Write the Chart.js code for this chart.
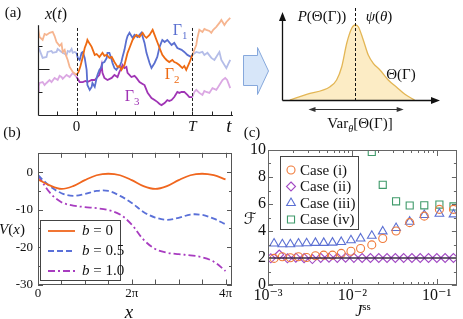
<!DOCTYPE html>
<html>
<head>
<meta charset="utf-8">
<script src="https://cdn.jsdelivr.net/npm/chart.js@4.4.0/dist/chart.umd.min.js"></script>
<style>
  body { margin: 0; background: #fff; }
  #fig { position: relative; width: 463px; height: 319px; overflow: hidden; background: #fff;
         font-family: 'Liberation Serif', 'DejaVu Serif', serif; color: #111; }
  canvas { position: absolute; }
  .lbl { position: absolute; white-space: nowrap; transform: translate(-50%, -50%); line-height: 1; }
  .lbl sub, .lbl sup { font-size: 68%; line-height: 0; }
</style>
</head>
<body>
<div id="fig">
  <canvas id="cA" width="240" height="140" style="left:0;top:0;width:240px;height:140px"></canvas>
  <canvas id="cP" width="223" height="140" style="left:240px;top:0;width:223px;height:140px"></canvas>
  <canvas id="cB" width="240" height="179" style="left:0;top:140px;width:240px;height:179px"></canvas>
  <canvas id="cC" width="223" height="179" style="left:240px;top:140px;width:223px;height:179px"></canvas>

  <svg style="position:absolute;left:240px;top:40px" width="32" height="60">
    <polygon points="3.5,15.5 17.5,15.5 17.5,7.5 28.5,31 17.5,54.5 17.5,45.5 3.5,45.5"
             fill="#d7e6f9" stroke="#86a8dc" stroke-width="1"/>
  </svg>

  <div class="lbl" style="left:13px;top:12px;font-size:15px">(a)</div>
  <div class="lbl" style="left:56px;top:14px;font-size:16px"><i>x</i>(<i>t</i>)</div>
  <div class="lbl" style="left:180px;top:30px;font-size:16px;color:#5a6fd0">Γ<sub>1</sub></div>
  <div class="lbl" style="left:172px;top:74px;font-size:16px;color:#ee6a12">Γ<sub>2</sub></div>
  <div class="lbl" style="left:132px;top:96px;font-size:16px;color:#a035b5">Γ<sub>3</sub></div>
  <div class="lbl" style="left:229px;top:125px;font-size:19px"><i>t</i></div>

  <div class="lbl" style="left:322px;top:16px;font-size:15px"><i>P</i>(Θ(Γ))</div>
  <div class="lbl" style="left:379px;top:16px;font-size:15px"><i>ψ</i>(<i>θ</i>)</div>
  <div class="lbl" style="left:401px;top:74px;font-size:15px">Θ(Γ)</div>
  <div class="lbl" style="left:360px;top:123px;font-size:15px">Var<sub><i>θ</i></sub>[Θ(Γ)]</div>

  <div class="lbl" style="left:12px;top:132px;font-size:15px">(b)</div>
  <div class="lbl" style="left:12px;top:229px;font-size:15px"><i>V</i>(<i>x</i>)</div>
  <div class="lbl" style="left:129px;top:311px;font-size:19px"><i>x</i></div>

  <div class="lbl" style="left:252px;top:132px;font-size:15px">(c)</div>
  <div class="lbl" style="left:250px;top:219px;font-size:16px;font-family:'DejaVu Serif','DejaVu Sans',serif"><i>ℱ</i></div>
  <div class="lbl" style="left:363px;top:311px;font-size:16px"><i>J</i><sup>ss</sup></div>
</div>

<script>
const SERIF = "'Liberation Serif', 'DejaVu Serif', serif";

// ---------- panel (a), left: three sample paths x(t), t in units of T/3 ----------
const tOrange = [-1.00,-0.96,-0.88,-0.83,-0.78,-0.70,-0.62,-0.57,-0.52,-0.44,-0.39,-0.36,-0.31,-0.28,-0.23,-0.18,-0.10,0,
  0.05,0.10,0.16,0.21,0.26,0.28,0.34,0.39,0.47,0.52,0.59,0.67,0.72,0.78,0.85,0.91,0.98,1.06,1.11,1.16,1.24,1.32,1.37,1.45,
  1.50,1.55,1.63,1.71,1.76,1.81,1.89,1.97,2.02,2.09,2.15,2.22,2.28,2.33,2.40,2.48,2.53,2.59,2.66,2.74,2.79,2.84,2.92,3.00,
  3.05,3.10,3.13,3.18,3.26,3.31,3.36,3.44,3.49,3.54,3.62,3.70,3.75,3.83,3.88,3.98];
const xOrange = [3.78,3.39,3.26,3.52,3.48,3.57,3.61,3.43,3.17,3.00,3.09,2.74,2.83,2.61,2.39,2.09,1.87,1.74,
  1.87,2.13,2.52,2.91,3.13,3.26,3.09,2.96,2.61,2.65,2.52,2.70,2.57,2.61,2.48,2.52,2.30,2.09,2.13,1.96,2.17,2.70,2.91,3.26,
  3.39,3.48,3.39,3.57,3.43,3.35,3.48,3.70,3.48,3.17,2.91,2.61,2.48,2.39,2.30,2.39,2.30,2.26,2.17,2.04,2.13,1.96,2.26,2.61,
  2.83,3.04,3.35,3.70,3.61,3.74,3.70,3.65,3.57,3.70,3.83,4.00,4.13,3.91,4.04,4.22];

const tBlue = [-1.00,-0.96,-0.91,-0.88,-0.78,-0.75,-0.65,-0.62,-0.52,-0.49,-0.39,-0.36,-0.26,-0.23,-0.18,-0.13,-0.10,-0.05,0,
  0.03,0.08,0.13,0.16,0.21,0.26,0.28,0.34,0.39,0.41,0.47,0.52,0.54,0.59,0.65,0.67,0.72,0.78,0.80,0.85,0.91,0.93,0.98,1.03,
  1.06,1.11,1.16,1.19,1.24,1.29,1.32,1.37,1.45,1.50,1.58,1.68,1.76,1.81,1.89,1.94,2.02,2.09,2.15,2.22,2.28,2.35,2.46,2.53,
  2.61,2.72,2.79,2.87,2.97,3.00,
  3.10,3.18,3.26,3.31,3.39,3.49,3.57,3.65,3.70,3.75,3.83,3.88,3.93,3.98];
const xBlue = [2.96,2.83,2.61,2.48,2.52,2.74,2.78,2.70,2.74,2.87,2.74,2.70,2.61,2.78,2.74,2.87,2.70,2.74,2.70,
  2.48,2.39,2.70,2.74,2.48,1.96,1.30,1.09,1.22,1.39,1.22,1.61,1.74,1.96,2.09,2.26,2.30,2.48,2.70,2.70,2.39,2.26,2.04,1.96,
  2.04,2.09,2.30,2.52,2.83,3.26,3.43,3.57,3.35,3.48,3.39,3.57,3.13,2.70,2.26,2.04,2.26,2.52,2.96,3.26,3.17,3.26,3.04,3.13,
  2.91,2.83,2.74,2.61,2.52,2.61,
  2.74,2.70,2.74,2.61,2.70,2.48,2.39,2.61,2.74,2.39,2.17,2.04,2.22,2.39];

const tPurple = [-1.00,-0.98,-0.96,-0.88,-0.83,-0.78,-0.70,-0.65,-0.57,-0.49,-0.44,-0.39,-0.36,-0.26,-0.18,-0.10,-0.05,0,
  0.08,0.16,0.23,0.28,0.39,0.47,0.52,0.59,0.65,0.67,0.72,0.80,0.91,0.98,1.06,1.11,1.16,1.19,1.24,1.29,1.32,1.42,1.50,1.55,
  1.63,1.71,1.76,1.84,1.94,2.02,2.09,2.15,2.20,2.28,2.35,2.40,2.46,2.53,2.61,2.66,2.72,2.79,2.87,2.92,3.00,
  3.05,3.10,3.18,3.26,3.31,3.36,3.44,3.52,3.62,3.70,3.78,3.85,3.90,3.98];
const xPurple = [1.00,1.26,1.39,1.43,1.30,1.39,1.52,1.43,1.61,1.52,1.70,1.65,1.57,1.74,1.65,1.83,1.74,1.65,
  1.43,1.43,1.48,1.43,1.52,1.52,1.61,1.74,2.17,1.83,1.61,1.52,1.61,1.74,1.65,1.87,2.04,2.17,2.04,2.09,1.83,1.65,1.70,1.61,
  1.43,1.35,1.30,0.96,0.74,0.65,0.57,0.48,0.43,0.52,0.65,0.61,0.65,0.78,1.00,0.96,1.00,1.00,0.87,0.78,0.78,
  1.00,1.09,0.96,0.87,1.04,1.00,0.96,1.17,1.09,1.30,1.52,1.61,1.52,1.17];

const T_END = 3;
const aTickT = [0, 3];
const aTickText = ['0', 'T'];
const aMinorT = [-0.5, 0, 0.5, 1, 1.5, 2, 2.5, 3, 3.5, 4];
const aTickX = [1, 2, 3];

// ---------- panel (a), right: distribution of Theta ----------
const thetaVals = [0.5, 1.58, 3.08, 3.5, 3.83, 4.15, 4.47, 4.68, 4.89, 5.21, 5.53, 5.85, 6.28, 6.81, 7.35, 7.88, 8.5];
const pTheta    = [0, 0.66, 1.55, 2.33, 3.87, 6.6, 8.34, 8.72, 8.52, 6.98, 5.23, 4.27, 3.49, 2.33, 1.48, 0.66, 0];
const thetaPeak = 4.68;
const varFrom = 1.7, varTo = 7.8;

// ---------- panel (b): potentials V(x) ----------
const xGrid = [0, 0.785, 1.571, 2.356, 3.142, 3.927, 4.712, 5.498, 6.283, 7.069, 7.854, 8.639, 9.425, 10.21, 10.996, 11.781, 12.566];
const vB0  = [-1.9, -3.5, -4.45, -3.7, -2.1, -0.8, -0.4, -0.8, -2.1, -3.7, -4.45, -3.7, -2.1, -0.8, -0.4, -0.8, -1.9];
const vB05 = [-0.8, -3.7, -5.6, -6.3, -5.8, -5.0, -5.0, -6.3, -8.2, -10.6, -12.1, -12.7, -12.2, -11.3, -11.4, -12.4, -13.9];
const vB10 = [-0.8, -5.4, -8.0, -8.9, -9.3, -9.6, -10.1, -11.3, -14.0, -18.0, -20.5, -21.5, -21.9, -22.2, -22.7, -23.9, -26.4];
const bValues = ['0', '0.5', '1.0'];
const bTickX = [0, 6.283, 12.566];
const bTickText = ['0', '2π', '4π'];
const bMinorX = [1.571, 3.142, 4.712, 6.283, 7.854, 9.425, 10.996, 12.566];
const bTickY = [-30, -20, -10, 0];
const bMinorY = [-25, -15, -5];

// ---------- panel (c): F versus J^ss ----------
const jGrid  = [0.00118, 0.00148, 0.00184, 0.0023, 0.00287, 0.00365, 0.00458, 0.00582, 0.00739, 0.00964,
                0.01253, 0.01702, 0.02296, 0.03304, 0.04794, 0.07138, 0.1079, 0.1585];
const fCase1 = [1.97, 2.09, 2.02, 2.09, 2.04, 2.17, 2.21, 2.21, 2.34, 2.5, 2.7, 2.97, 3.45, 4.0, 4.62, 5.1, 5.6, 5.6];
const fCase3 = [3.07, 3.02, 3.02, 3.07, 3.09, 3.12, 3.12, 3.14, 3.19, 3.31, 3.45, 3.65, 3.97, 4.22, 4.69, 5.18, 5.28, 5.23];
const fCase4 = [null, null, null, null, null, null, null, null, null, null, null, 9.85, 7.42, 6.2, 5.89, 5.9, 5.96, 5.82];
const jGridII = [0.00108, 0.00136, 0.0017, 0.00214, 0.00268, 0.00336, 0.00422, 0.00529, 0.00664, 0.00832, 0.01044, 0.01309,
                 0.01642, 0.0206, 0.02583, 0.0324, 0.04064, 0.05097, 0.06393, 0.08018, 0.1006, 0.1262, 0.1582];
const fCase2 = [1.98, 2.26, 1.98, 2.02, 1.99, 1.92, 2.01, 2.02, 2.01, 2.02, 2.01, 2.0, 2.0, 2.0, 2.0, 2.0, 2.0, 2.0, 2.0, 2.0, 2.0, 2.0, 2.0];
const fBound = 2;
const cTickJ = [0.001, 0.01, 0.1];
const cTickText = ['10⁻³', '10⁻²', '10⁻¹'];
const cMinorJ = [0.002, 0.003, 0.004, 0.005, 0.006, 0.007, 0.008, 0.009, 0.02, 0.03, 0.04, 0.05, 0.06, 0.07, 0.08, 0.09];
const cTickF = [0, 2, 4, 6, 8, 10];
const cMinorF = [1, 3, 5, 7, 9];

// ---------- helpers ----------
function pts(xs, ys) {
  const out = [];
  xs.forEach((x, i) => { if (ys[i] !== null) out.push({ x: x, y: ys[i] }); });
  return out;
}
function segment(ts, vs, lo, hi) {
  const out = [];
  ts.forEach((t, i) => { if (t >= lo && t <= hi) out.push({ x: t, y: vs[i] }); });
  return out;
}
function seg(ctx, x1, y1, x2, y2) {
  ctx.beginPath(); ctx.moveTo(x1, y1); ctx.lineTo(x2, y2); ctx.stroke();
}
function head(ctx, x, y, dx, dy, len, half) {
  // filled arrow head with its tip at (x, y), pointing along (dx, dy)
  ctx.beginPath();
  ctx.moveTo(x, y);
  ctx.lineTo(x - dx * len - dy * half, y - dy * len + dx * half);
  ctx.lineTo(x - dx * len + dy * half, y - dy * len - dx * half);
  ctx.closePath(); ctx.fill();
}
function marker(ctx, style, x, y, r) {
  ctx.beginPath();
  if (style === 'circle') ctx.arc(x, y, r, 0, Math.PI * 2);
  else if (style === 'rect') { const s = r * Math.SQRT1_2; ctx.rect(x - s, y - s, 2 * s, 2 * s); }
  else if (style === 'rectRot') { ctx.moveTo(x, y - r); ctx.lineTo(x + r, y); ctx.lineTo(x, y + r); ctx.lineTo(x - r, y); ctx.closePath(); }
  else if (style === 'triangle') {
    for (let k = 0; k < 3; k++) {
      const a = k * 2 * Math.PI / 3;
      if (k === 0) ctx.moveTo(x + Math.sin(a) * r, y - Math.cos(a) * r);
      else ctx.lineTo(x + Math.sin(a) * r, y - Math.cos(a) * r);
    }
    ctx.closePath();
  }
  ctx.stroke();
}

// inward ticks and a full frame, placed through the chart's own scales
const frameTicks = {
  id: 'frameTicks',
  afterDatasetsDraw(chart, args, o) {
    const ctx = chart.ctx, a = chart.chartArea;
    ctx.save();
    ctx.strokeStyle = o.color;
    ctx.lineWidth = 1;
    ctx.strokeRect(Math.round(a.left) + 0.5, Math.round(a.top) + 0.5, Math.round(a.width) - 1, Math.round(a.height) - 1);
    o.marks.forEach(m => {
      const s = chart.scales[m.axis];
      m.values.forEach(v => {
        const p = Math.round(s.getPixelForValue(v)) + 0.5;
        if (m.axis === 'x') {
          seg(ctx, p, a.bottom, p, a.bottom - m.len);
          seg(ctx, p, a.top, p, a.top + m.len);
        } else {
          seg(ctx, a.left, p, a.left + m.len, p);
          seg(ctx, a.right, p, a.right - m.len, p);
        }
      });
    });
    ctx.restore();
  }
};

// boxed legend drawn inside the plot area
const boxLegend = {
  id: 'boxLegend',
  afterDatasetsDraw(chart, args, o) {
    const ctx = chart.ctx;
    ctx.save();
    ctx.fillStyle = '#fff';
    ctx.fillRect(o.x, o.y, o.w, o.h);
    ctx.strokeStyle = '#444';
    ctx.lineWidth = 1;
    ctx.strokeRect(o.x + 0.5, o.y + 0.5, o.w, o.h);
    const items = chart.data.datasets.filter(d => d.label);
    items.forEach((d, i) => {
      const y = o.rows[i];
      ctx.strokeStyle = d.borderColor;
      if (o.kind === 'line') {
        ctx.lineWidth = d.borderWidth;
        ctx.setLineDash(d.borderDash || []);
        seg(ctx, o.x + 8, y, o.x + 35, y);
        ctx.setLineDash([]);
        ctx.fillStyle = '#111';
        ctx.textBaseline = 'middle';
        ctx.font = 'italic 15px ' + SERIF;
        ctx.fillText('b', o.x + 42, y);
        const w = ctx.measureText('b').width;
        ctx.font = '15px ' + SERIF;
        ctx.fillText(' = ' + d.bValue, o.x + 42 + w, y);
      } else {
        ctx.lineWidth = d.borderWidth;
        marker(ctx, d.pointStyle, o.x + 11, y, d.pointRadius);
        ctx.fillStyle = '#111';
        ctx.textBaseline = 'middle';
        ctx.font = '15px ' + SERIF;
        ctx.fillText(d.label, o.x + 20, y + 1);
      }
    });
    ctx.restore();
  }
};

Chart.defaults.font.family = SERIF;
Chart.defaults.color = '#111';

// ---------- chart (a) left ----------
const pathAxes = {
  id: 'pathAxes',
  afterDatasetsDraw(chart) {
    const ctx = chart.ctx, x = chart.scales.x, y = chart.scales.y;
    const xl = Math.round(x.getPixelForValue(-1)) + 0.5;
    const yb = Math.round(y.getPixelForValue(0)) + 0.5;
    ctx.save();
    ctx.strokeStyle = '#222';
    ctx.lineWidth = 1;
    ctx.setLineDash([3, 2]);
    aTickT.forEach(t => {
      const p = Math.round(x.getPixelForValue(t)) + 0.5;
      seg(ctx, p, y.getPixelForValue(3.78), p, yb);
    });
    ctx.setLineDash([]);
    ctx.lineWidth = 1.2;
    seg(ctx, xl, y.getPixelForValue(3.9), xl, yb);
    seg(ctx, xl, yb, x.getPixelForValue(4.05), yb);
    ctx.lineWidth = 1;
    aMinorT.forEach(t => { const p = Math.round(x.getPixelForValue(t)) + 0.5; seg(ctx, p, yb, p, yb - 4); });
    aTickX.forEach(v => { const p = Math.round(y.getPixelForValue(v)) + 0.5; seg(ctx, xl, p, xl + (v === 2 ? 11 : 4), p); });
    ctx.restore();
  }
};

const paths = [
  { t: tOrange, v: xOrange, col: '#ee6a12', fade: '#f6b590' },
  { t: tBlue,   v: xBlue,   col: '#5a6fd0', fade: '#b4bde8' },
  { t: tPurple, v: xPurple, col: '#a035b5', fade: '#dba8e3' }
];
const aSets = [];
paths.forEach(p => aSets.push({ data: segment(p.t, p.v, 0, T_END), borderColor: p.col, borderWidth: 1.8 }));
paths.forEach(p => {
  aSets.push({ data: segment(p.t, p.v, -1, 0), borderColor: p.fade, borderWidth: 1.8 });
  aSets.push({ data: segment(p.t, p.v, T_END, 4), borderColor: p.fade, borderWidth: 1.8 });
});

new Chart(document.getElementById('cA'), {
  type: 'line',
  data: { datasets: aSets },
  options: {
    responsive: false, animation: false,
    layout: { padding: { left: 38, top: 16, right: 9, bottom: 0 } },
    elements: { point: { radius: 0 }, line: { tension: 0 } },
    plugins: { legend: { display: false }, tooltip: { enabled: false } },
    scales: {
      x: {
        type: 'linear', min: -1, max: 4,
        grid: { display: false, drawTicks: false }, border: { display: false },
        afterBuildTicks: s => { s.ticks = aTickT.map(v => ({ value: v })); },
        afterFit: s => { s.height = 25; },
        ticks: {
          autoSkip: false, maxRotation: 0, padding: 3, color: '#111',
          callback: (v, i) => aTickText[i],
          font: c => ({ family: SERIF, size: 15, style: c.tick && c.tick.value === T_END ? 'italic' : 'normal' })
        }
      },
      y: { min: 0, max: 4.3, display: false }
    }
  },
  plugins: [pathAxes]
});

// ---------- chart (a) right ----------
const distAxes = {
  id: 'distAxes',
  afterDatasetsDraw(chart) {
    const ctx = chart.ctx, a = chart.chartArea, x = chart.scales.x;
    const l = Math.round(a.left) + 0.5, b = Math.round(a.bottom) + 0.5;
    ctx.save();
    ctx.strokeStyle = '#111'; ctx.fillStyle = '#111';
    ctx.setLineDash([3, 2]);
    ctx.lineWidth = 1;
    const pk = Math.round(x.getPixelForValue(thetaPeak)) + 0.5;
    seg(ctx, pk, a.top - 6, pk, b);
    ctx.setLineDash([]);
    ctx.lineWidth = 1.3;
    seg(ctx, l, b, l, a.top + 4);
    head(ctx, l, a.top - 2, 0, -1, 9, 3.5);
    seg(ctx, l, b, a.right - 4, b);
    head(ctx, a.right + 2, b, 1, 0, 9, 3.5);
    ctx.strokeStyle = '#333'; ctx.fillStyle = '#333'; ctx.lineWidth = 1;
    const va = x.getPixelForValue(varFrom), vb = x.getPixelForValue(varTo), vy = b + 9;
    seg(ctx, va + 4, vy, vb - 4, vy);
    head(ctx, va, vy, -1, 0, 7, 2.6);
    head(ctx, vb, vy, 1, 0, 7, 2.6);
    ctx.restore();
  }
};

new Chart(document.getElementById('cP'), {
  type: 'line',
  data: {
    datasets: [{
      data: pts(thetaVals, pTheta), borderColor: '#e3b655', borderWidth: 1.3,
      backgroundColor: '#fcecc5', fill: 'origin', cubicInterpolationMode: 'monotone', pointRadius: 0
    }]
  },
  options: {
    responsive: false, animation: false,
    layout: { padding: { left: 42, top: 14, right: 25, bottom: 40 } },
    plugins: { legend: { display: false }, tooltip: { enabled: false } },
    scales: {
      x: { type: 'linear', min: 0, max: 10, display: false },
      y: { min: 0, max: 10, display: false }
    }
  },
  plugins: [distAxes]
});

// ---------- chart (b) ----------
new Chart(document.getElementById('cB'), {
  type: 'line',
  data: {
    datasets: [
      { label: 'b0', bValue: bValues[0], data: pts(xGrid, vB0), borderColor: '#f0661e', borderWidth: 1.8 },
      { label: 'b05', bValue: bValues[1], data: pts(xGrid, vB05), borderColor: '#5a70d8', borderWidth: 1.8, borderDash: [6, 3] },
      { label: 'b10', bValue: bValues[2], data: pts(xGrid, vB10), borderColor: '#a83cc0', borderWidth: 1.8, borderDash: [7, 3, 2, 3] }
    ]
  },
  options: {
    responsive: false, animation: false,
    layout: { padding: { left: 0, top: 8, right: 8, bottom: 0 } },
    elements: { point: { radius: 0 }, line: { tension: 0.35 } },
    plugins: {
      legend: { display: false }, tooltip: { enabled: false },
      frameTicks: { color: '#555', marks: [
        { axis: 'x', values: bMinorX, len: 5 },
        { axis: 'y', values: bTickY, len: 5 },
        { axis: 'y', values: bMinorY, len: 3 }
      ] },
      boxLegend: { kind: 'line', x: 40, y: 80, w: 80, h: 60, rows: [91, 111, 131] }
    },
    scales: {
      x: {
        type: 'linear', min: 0, max: 13,
        grid: { display: false, drawTicks: false }, border: { display: false },
        afterBuildTicks: s => { s.ticks = bTickX.map(v => ({ value: v })); },
        afterFit: s => { s.height = 34.5; },
        ticks: { autoSkip: false, maxRotation: 0, padding: 1, font: { size: 13 }, callback: (v, i) => bTickText[i] }
      },
      y: {
        min: -30, max: 5.2,
        grid: { display: false, drawTicks: false }, border: { display: false },
        afterBuildTicks: s => { s.ticks = bTickY.map(v => ({ value: v })); },
        afterFit: s => { s.width = 38; },
        ticks: { padding: 5, font: { size: 13 }, callback: v => String(v) }
      }
    }
  },
  plugins: [frameTicks, boxLegend]
});

// ---------- chart (c) ----------
new Chart(document.getElementById('cC'), {
  type: 'scatter',
  data: {
    datasets: [
      { type: 'line', data: [{ x: 0.001, y: fBound }, { x: 0.174, y: fBound }], borderColor: '#3d2a48', borderWidth: 1.3, pointRadius: 0 },
      { label: 'Case (i)', data: pts(jGrid, fCase1), pointStyle: 'circle', pointRadius: 4, borderColor: '#f07a3a', borderWidth: 1.1, backgroundColor: 'rgba(0,0,0,0)' },
      { label: 'Case (ii)', data: pts(jGridII, fCase2), pointStyle: 'rectRot', pointRadius: 4.5, borderColor: '#a24ac4', borderWidth: 1.1, backgroundColor: 'rgba(0,0,0,0)' },
      { label: 'Case (iii)', data: pts(jGrid, fCase3), pointStyle: 'triangle', pointRadius: 5, borderColor: '#5b6fd3', borderWidth: 1.1, backgroundColor: 'rgba(0,0,0,0)' },
      { label: 'Case (iv)', data: pts(jGrid, fCase4), pointStyle: 'rect', pointRadius: 5, borderColor: '#3f9a6a', borderWidth: 1.1, backgroundColor: 'rgba(0,0,0,0)' }
    ]
  },
  options: {
    responsive: false, animation: false,
    layout: { padding: { left: 0, top: 8, right: 1, bottom: 0 } },
    plugins: {
      legend: { display: false }, tooltip: { enabled: false },
      frameTicks: { color: '#666', marks: [
        { axis: 'x', values: cTickJ, len: 6 },
        { axis: 'x', values: cMinorJ, len: 3 },
        { axis: 'y', values: cTickF, len: 5 },
        { axis: 'y', values: cMinorF, len: 3 }
      ] },
      boxLegend: { kind: 'marker', x: 40, y: 16, w: 78, h: 73, rows: [30, 46.5, 63, 79.5] }
    },
    scales: {
      x: {
        type: 'logarithmic', min: 0.001, max: 0.174,
        grid: { display: false, drawTicks: false }, border: { display: false },
        afterBuildTicks: s => { s.ticks = cTickJ.map(v => ({ value: v })); },
        afterFit: s => { s.height = 34; },
        ticks: { autoSkip: false, maxRotation: 0, padding: 3, font: { size: 16, lineHeight: 1 }, callback: (v, i) => cTickText[i] }
      },
      y: {
        min: 0, max: 10,
        grid: { display: false, drawTicks: false }, border: { display: false },
        afterBuildTicks: s => { s.ticks = cTickF.map(v => ({ value: v })); },
        afterFit: s => { s.width = 28; },
        ticks: { padding: 2, font: { size: 16, lineHeight: 1 }, callback: v => String(v) }
      }
    }
  },
  plugins: [frameTicks, boxLegend]
});
</script>
</body>
</html>
